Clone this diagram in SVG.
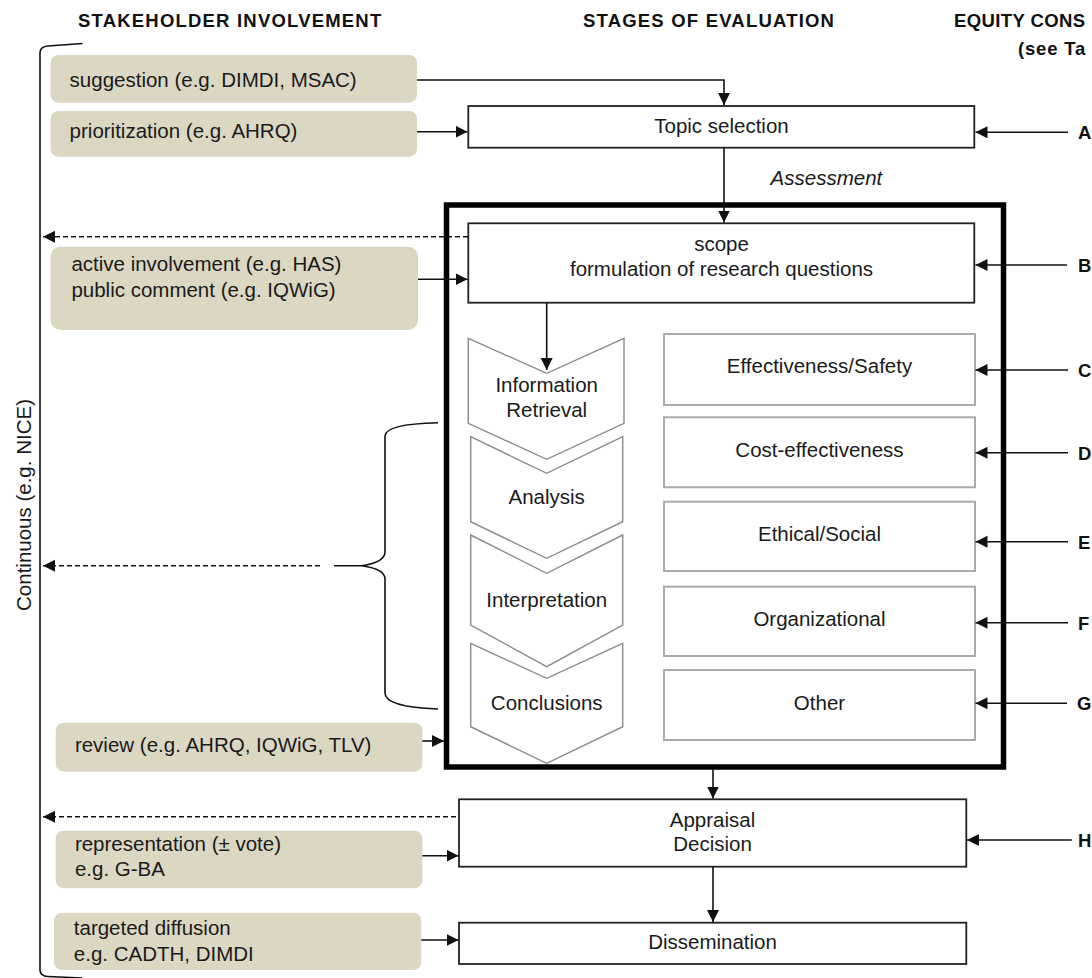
<svg xmlns="http://www.w3.org/2000/svg" width="1092" height="978" viewBox="0 0 1092 978">
<defs>
<style>
text{font-family:"Liberation Sans",Arial,sans-serif;font-size:20.5px;fill:#1a1a1a}
.hd{font-weight:bold;font-size:18.5px;letter-spacing:1.2px;fill:#111}
.lt{font-weight:bold;font-size:18.5px;fill:#111}
.it{font-style:italic}
.mid{text-anchor:middle}
.tan{fill:#dcd7c2;stroke:none}
.box{fill:#fff;stroke:#222;stroke-width:1.8}
.gbox{fill:#fff;stroke:#aaa;stroke-width:2}
.chev{fill:#fff;stroke:#8a8a8a;stroke-width:1.4}
.ln{fill:none;stroke:#111;stroke-width:1.6}
.dash{fill:none;stroke:#111;stroke-width:1.6;stroke-dasharray:5 3}
</style>
<marker id="ah" markerUnits="userSpaceOnUse" markerWidth="13" markerHeight="13" refX="12" refY="6" orient="auto">
<path d="M0,0 L12,6 L0,12 z" fill="#111"/>
</marker>
</defs>
<rect width="1092" height="978" fill="#fff"/>

<g id="headers">
<text class="hd" x="78" y="27">STAKEHOLDER INVOLVEMENT</text>
<text class="hd" x="583" y="27">STAGES OF EVALUATION</text>
<text class="hd" x="954" y="27" style="letter-spacing:0.4px">EQUITY CONS</text>
<text class="hd" x="1018" y="55" style="letter-spacing:0.8px">(see Ta</text>
</g>

<g id="continuous">
<path class="ln" d="M82.5,43.5 L48,46 Q40,46.5 40,53 L40,970 Q40,976 48,976.5 L82,978"/>
<text class="mid" transform="translate(31,505) rotate(-90)">Continuous (e.g. NICE)</text>
</g>

<g id="brace">
<path class="ln" d="M438,422.7 Q385,424 385,436 L385,552 Q385,562 362,565.7 L334,565.7 M362,565.7 Q385,569 385,579 L385,693 Q385,707 438,709"/>
</g>

<g id="s-suggestion"><rect class="tan" x="50.5" y="55" width="366.5" height="47.7" rx="8"/><text x="69.6" y="87.3">suggestion (e.g. DIMDI, MSAC)</text></g>
<g id="s-prioritization"><rect class="tan" x="50.5" y="111" width="366.5" height="45.7" rx="8"/><text x="69.6" y="138.3">prioritization (e.g. AHRQ)</text></g>
<g id="s-active"><rect class="tan" x="50.5" y="246.7" width="367.5" height="83.3" rx="10"/><text x="71.4" y="270.7">active involvement (e.g. HAS)</text><text x="71.4" y="296.7">public comment (e.g. IQWiG)</text></g>
<g id="s-review"><rect class="tan" x="55.7" y="722.7" width="366.7" height="49" rx="8"/><text x="74.9" y="751.7">review (e.g. AHRQ, IQWiG, TLV)</text></g>
<g id="s-representation"><rect class="tan" x="55.7" y="830.7" width="366.7" height="57.6" rx="8"/><text x="74.9" y="850.7">representation (± vote)</text><text x="74.9" y="875.7">e.g. G-BA</text></g>
<g id="s-diffusion"><rect class="tan" x="54" y="912.7" width="367.3" height="57.3" rx="8"/><text x="73.8" y="935">targeted diffusion</text><text x="73.8" y="961">e.g. CADTH, DIMDI</text></g>

<g id="topic"><rect class="box" x="468.3" y="106" width="506" height="41.7"/><text class="mid" x="721.5" y="133.3">Topic selection</text></g>
<text class="it" x="770.6" y="185">Assessment</text>

<g id="assessment-frame"><rect x="446.5" y="205" width="557" height="562" fill="none" stroke="#000" stroke-width="5.5"/></g>

<g id="scope"><rect class="box" x="468.3" y="223.3" width="506" height="79.4"/><text class="mid" x="721.5" y="250.7">scope</text><text class="mid" x="721.5" y="276">formulation of research questions</text></g>

<g id="c-info"><path class="chev" d="M468.3,338.3 L546.7,373.3 L624,338.3 L624,423.3 L546.7,459.3 L468.3,423.3 Z"/><text class="mid" x="546.7" y="391.7">Information</text><text class="mid" x="546.7" y="416.7">Retrieval</text></g>
<g id="c-analysis"><path class="chev" d="M470.7,436.7 L546.7,473.3 L622.7,436.7 L622.7,521.7 L546.7,558.3 L470.7,521.7 Z"/><text class="mid" x="546.7" y="504.3">Analysis</text></g>
<g id="c-interp"><path class="chev" d="M470.7,535 L546.7,573.3 L622.7,535 L622.7,625 L546.7,666.7 L470.7,625 Z"/><text class="mid" x="546.7" y="606.7">Interpretation</text></g>
<g id="c-concl"><path class="chev" d="M470.7,643.3 L546.7,678.3 L622.7,643.3 L622.7,726.7 L546.7,763.3 L470.7,726.7 Z"/><text class="mid" x="546.7" y="710">Conclusions</text></g>

<g id="d-effect"><rect class="gbox" x="664" y="334" width="311" height="71"/><text class="mid" x="819.5" y="373.3">Effectiveness/Safety</text></g>
<g id="d-cost"><rect class="gbox" x="664" y="417.3" width="311" height="70"/><text class="mid" x="819.5" y="456.7">Cost-effectiveness</text></g>
<g id="d-ethical"><rect class="gbox" x="664" y="501.7" width="311" height="69.3"/><text class="mid" x="819.5" y="541">Ethical/Social</text></g>
<g id="d-org"><rect class="gbox" x="664" y="586.7" width="311" height="69.3"/><text class="mid" x="819.5" y="625.7">Organizational</text></g>
<g id="d-other"><rect class="gbox" x="664" y="670" width="311" height="70"/><text class="mid" x="819.5" y="710">Other</text></g>

<g id="appraisal"><rect class="box" x="459" y="799.3" width="507.3" height="67.4"/><text class="mid" x="712.5" y="826.7">Appraisal</text><text class="mid" x="712.5" y="851">Decision</text></g>
<g id="dissemination"><rect class="box" x="459" y="922.7" width="507.3" height="41.3"/><text class="mid" x="712.5" y="949.3">Dissemination</text></g>

<g id="letters">
<text class="lt" x="1078" y="139">A</text>
<text class="lt" x="1078" y="271.5">B</text>
<text class="lt" x="1078" y="376.5">C</text>
<text class="lt" x="1078" y="459.5">D</text>
<text class="lt" x="1078" y="548.5">E</text>
<text class="lt" x="1078" y="629.5">F</text>
<text class="lt" x="1077" y="710">G</text>
<text class="lt" x="1078" y="846.5">H</text>
</g>

<g id="connectors">
<path class="ln" d="M417,80 H724 V105" marker-end="url(#ah)"/>
<path class="ln" d="M417,131.7 H467.5" marker-end="url(#ah)"/>
<path class="ln" d="M724,147.7 V222.5" marker-end="url(#ah)"/>
<path class="ln" d="M418,279.3 H467.5" marker-end="url(#ah)"/>
<path class="ln" d="M546.7,302.7 V370" marker-end="url(#ah)"/>
<path class="ln" d="M422.4,741 H444" marker-end="url(#ah)"/>
<path class="ln" d="M713,769.5 V798.5" marker-end="url(#ah)"/>
<path class="ln" d="M713,866.7 V922" marker-end="url(#ah)"/>
<path class="ln" d="M422.4,855.7 H458.5" marker-end="url(#ah)"/>
<path class="ln" d="M421.3,940 H458.5" marker-end="url(#ah)"/>
<path class="dash" d="M468,236.7 H43" marker-end="url(#ah)"/>
<path class="dash" d="M320,565.7 H43" marker-end="url(#ah)"/>
<path class="dash" d="M456,816.7 H43" marker-end="url(#ah)"/>
<path class="ln" d="M1068,132.3 H975.5" marker-end="url(#ah)"/>
<path class="ln" d="M1067,265 H975.5" marker-end="url(#ah)"/>
<path class="ln" d="M1068,370 H975.5" marker-end="url(#ah)"/>
<path class="ln" d="M1068,452.7 H975.5" marker-end="url(#ah)"/>
<path class="ln" d="M1068,541.7 H975.5" marker-end="url(#ah)"/>
<path class="ln" d="M1068,622.7 H975.5" marker-end="url(#ah)"/>
<path class="ln" d="M1067,703.3 H975.5" marker-end="url(#ah)"/>
<path class="ln" d="M1071.8,840 H967" marker-end="url(#ah)"/>
</g>
</svg>
